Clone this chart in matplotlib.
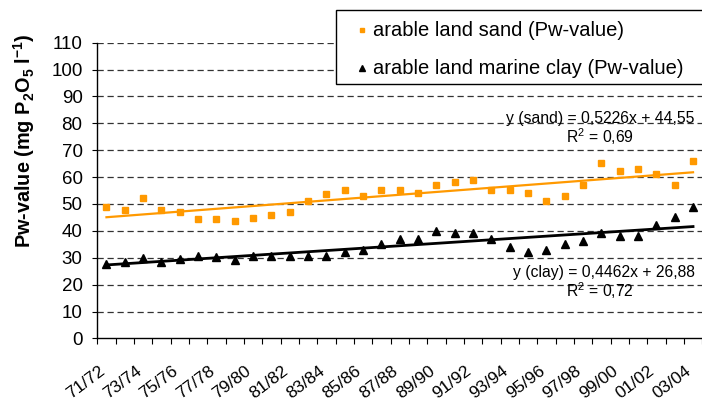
import matplotlib
matplotlib.use("Agg")
import matplotlib.pyplot as plt
import numpy as np
from matplotlib.lines import Line2D
from matplotlib.patches import Rectangle

plt.rcParams['font.family'] = ['Liberation Sans', 'DejaVu Sans']
plt.rcParams['mathtext.fontset'] = 'custom'
plt.rcParams['mathtext.rm'] = 'Liberation Sans'
plt.rcParams['mathtext.bf'] = 'Liberation Sans:bold'
plt.rcParams['mathtext.it'] = 'Liberation Sans:italic'

years = ["71/72", "72/73", "73/74", "74/75", "75/76", "76/77", "77/78", "78/79",
         "79/80", "80/81", "81/82", "82/83", "83/84", "84/85", "85/86", "86/87",
         "87/88", "88/89", "89/90", "90/91", "91/92", "92/93", "93/94", "94/95",
         "95/96", "96/97", "97/98", "98/99", "99/00", "00/01", "01/02", "02/03",
         "03/04"]
sand = [48.9, 47.7, 52.2, 47.7, 47.1, 44.4, 44.4, 43.6, 44.7, 45.8, 47.1, 51.0,
        53.6, 55.1, 52.9, 55.1, 55.1, 54.1, 56.9, 58.2, 58.9, 55.2, 55.2, 54.0,
        51.0, 53.0, 56.9, 65.2, 62.1, 63.1, 61.1, 56.9, 66.0]
clay = [27.7, 28.5, 30.0, 28.4, 29.6, 30.6, 30.1, 29.3, 30.6, 30.5, 30.8, 30.6,
        30.5, 32.0, 33.0, 35.0, 37.0, 37.1, 40.0, 39.1, 39.1, 37.0, 34.0, 32.2,
        33.0, 35.0, 36.1, 39.1, 38.0, 38.0, 42.1, 45.0, 49.0]
sand_fit = [0.5226, 44.55]
clay_fit = [0.4462, 26.88]
sand_label = "arable land sand (Pw-value)"
clay_label = "arable land marine clay (Pw-value)"
sand_eq = ["y (sand) = 0,5226x + 44,55", "R$^2$ = 0,69"]
clay_eq = ["y (clay) = 0,4462x + 26,88", "R$^2$ = 0,72"]
yticks = list(range(0, 111, 10))

W, H = 702, 403
fig = plt.figure(figsize=(W / 100, H / 100), dpi=100)
ax = fig.add_axes([97.3 / W, 1 - 338.4 / H, 604.9 / W, (338.4 - 42.7) / H])


def fx(px):
    return px / W


def fy(py):
    return 1 - py / H


x = np.arange(len(years))
xt = x + 1
orange = '#FF9900'

ax.set_xlim(-0.5, len(years) - 0.5)
ax.set_ylim(0, 110)

for v in yticks[1:]:
    ax.axhline(v, color='#333333', lw=0.9, dashes=(5, 3), zorder=1)

ax.plot(x, np.polyval(sand_fit, xt), color=orange, lw=1.6, zorder=2)
ax.plot(x, np.polyval(clay_fit, xt), color='black', lw=2.0, zorder=2)
ax.plot(x, sand, ls='none', marker='s', ms=4.2, color=orange, mec=orange, zorder=3)
ax.plot(x, clay, ls='none', marker='^', ms=5.2, color='black', zorder=3)

for s in ['top', 'right']:
    ax.spines[s].set_visible(False)
ax.spines['left'].set_linewidth(1)
ax.spines['bottom'].set_linewidth(1)

ax.set_yticks(yticks)
ax.tick_params(axis='y', labelsize=13.5, length=3.6, pad=7, direction='out')

# category boundaries get tick marks; labels every other category
ax.set_xticks(np.arange(-0.5, len(years), 1.0))
ax.set_xticklabels([])
ax.tick_params(axis='x', length=4.3, direction='out')
for i in x[::2]:
    ax.annotate(years[i], xy=(i, 0), xycoords=('data', 'axes fraction'),
                xytext=(-8, -25), textcoords='offset pixels',
                rotation=37, ha='right', va='top', rotation_mode='anchor',
                fontsize=12.5, annotation_clip=False)

fig.text(fx(24), fy(141), r"Pw-value (mg P$_\mathbf{2}$O$_\mathbf{5}$ l$^\mathbf{-1}$)",
         rotation=90, ha='center', va='center', fontsize=14.3, fontweight='bold')

fig.text(fx(694), fy(119), sand_eq[0], ha='right', va='center', fontsize=11.3)
fig.text(fx(600), fy(137), sand_eq[1], ha='center', va='center', fontsize=11.3)
fig.text(fx(695), fy(273), clay_eq[0], ha='right', va='center', fontsize=11.3)
fig.text(fx(600), fy(290.5), clay_eq[1], ha='center', va='center', fontsize=11.3)

# legend box
fig.add_artist(Rectangle((fx(335.5), fy(84)), fx(720) - fx(335.5), fy(10) - fy(84),
                         transform=fig.transFigure, facecolor='white',
                         edgecolor='black', lw=1, zorder=5, clip_on=False))
fig.add_artist(Line2D([fx(362)], [fy(30)], transform=fig.transFigure, ls='none',
                      marker='s', ms=3.2, color=orange, zorder=6))
fig.add_artist(Line2D([fx(362)], [fy(68)], transform=fig.transFigure, ls='none',
                      marker='^', ms=4, color='black', zorder=6))
fig.text(fx(373), fy(30), sand_label, ha='left', va='center', fontsize=14.5, zorder=6)
fig.text(fx(373), fy(68), clay_label, ha='left', va='center', fontsize=14.5, zorder=6)

fig.savefig('out.png', dpi=100)
